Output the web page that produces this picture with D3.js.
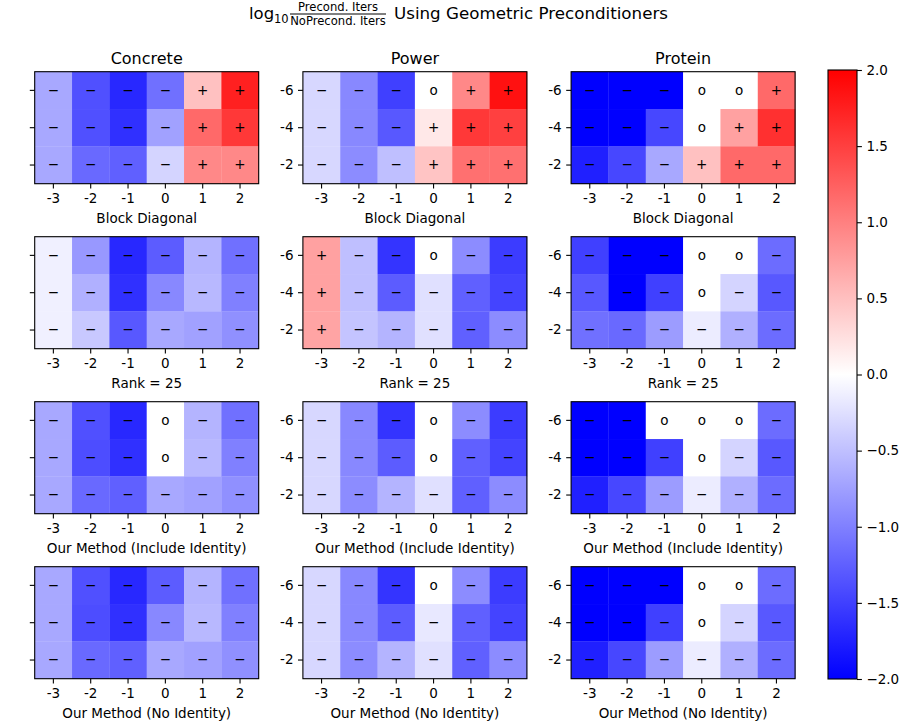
<!DOCTYPE html>
<html>
<head>
<meta charset="utf-8">
<script src="https://cdn.jsdelivr.net/npm/d3@7"></script>
<style>
  body { margin: 0; background: #fff; }
  svg { display: block; font-family: "DejaVu Sans", sans-serif; }
</style>
</head>
<body>
<svg id="chart" width="905" height="728"></svg>
<script>
// ---------------- data ----------------
const datasets = ["Concrete", "Power", "Protein"];
const methods = ["Block Diagonal", "Rank = 25", "Our Method (Include Identity)", "Our Method (No Identity)"];
const xTicks = [-3, -2, -1, 0, 1, 2];
const yTicks = [-6, -4, -2];
const colorbarTicks = [2.0, 1.5, 1.0, 0.5, 0.0, -0.5, -1.0, -1.5, -2.0];

// rows: y = -6, -4, -2 ; columns: x = -3 .. 2
const concreteBlockDiag = [
  [-0.68, -1.37, -1.69, -1.12, 0.49, 1.75],
  [-0.68, -1.37, -1.62, -0.74, 1.18, 1.56],
  [-0.68, -1.18, -1.25, -0.34, 0.93, 0.93]
];
const powerBlockDiag = [
  [-0.31, -0.93, -1.50, 0, 0.93, 1.87],
  [-0.31, -0.93, -1.31, 0.18, 1.56, 1.50],
  [-0.31, -0.90, -0.50, 0.46, 1.12, 1.12]
];
const proteinBlockDiag = [
  [-2.00, -2.00, -2.00, 0, 0, 1.18],
  [-2.00, -2.00, -1.44, 0, 0.74, 1.62],
  [-1.75, -1.44, -0.68, 0.49, 1.18, 1.18]
];
const concreteRank25 = [
  [-0.12, -0.81, -1.69, -1.28, -0.59, -1.12],
  [-0.12, -0.62, -1.62, -0.93, -0.56, -1.00],
  [-0.12, -0.43, -1.31, -0.68, -0.74, -0.87]
];
const powerRank25 = [
  [0.74, -0.50, -1.59, 0, -0.90, -1.53],
  [0.74, -0.50, -1.28, -0.24, -1.25, -1.47],
  [0.71, -0.46, -0.59, -0.24, -1.25, -0.90]
];
const proteinRank25 = [
  [-1.50, -2.00, -2.00, 0, 0, -1.15],
  [-1.31, -2.00, -1.50, 0, -0.34, -1.31],
  [-1.12, -1.18, -0.78, -0.15, -0.62, -1.15]
];
const concreteInclId = [
  [-0.68, -1.37, -1.69, 0, -0.59, -1.12],
  [-0.68, -1.40, -1.62, 0, -0.56, -1.00],
  [-0.68, -1.18, -1.25, -0.68, -0.74, -0.87]
];
const powerInclId = [
  [-0.31, -0.93, -1.59, 0, -0.90, -1.53],
  [-0.31, -0.93, -1.28, 0, -1.25, -1.47],
  [-0.31, -0.90, -0.59, -0.24, -1.25, -0.90]
];
const proteinInclId = [
  [-2.00, -2.00, 0, 0, 0, -1.15],
  [-2.00, -2.00, -1.50, 0, -0.34, -1.31],
  [-1.75, -1.44, -0.78, -0.15, -0.62, -1.15]
];
const concreteNoId = [
  [-0.68, -1.37, -1.69, -1.28, -0.59, -1.12],
  [-0.68, -1.40, -1.62, -0.93, -0.56, -1.00],
  [-0.68, -1.18, -1.25, -0.68, -0.74, -0.87]
];
const powerNoId = [
  [-0.31, -0.93, -1.59, 0, -0.90, -1.53],
  [-0.31, -0.93, -1.28, -0.18, -1.25, -1.47],
  [-0.31, -0.90, -0.59, -0.24, -1.25, -0.90]
];
const proteinNoId = [
  [-2.00, -2.00, -2.00, 0, 0, -1.15],
  [-2.00, -2.00, -1.50, 0, -0.34, -1.31],
  [-1.75, -1.44, -0.78, -0.15, -0.62, -1.15]
];

const grid = [
  [concreteBlockDiag, powerBlockDiag, proteinBlockDiag],
  [concreteRank25, powerRank25, proteinRank25],
  [concreteInclId, powerInclId, proteinInclId],
  [concreteNoId, powerNoId, proteinNoId]
];

// ---------------- layout ----------------
const svg = d3.select("#chart");
const FONT = "DejaVu Sans, sans-serif";
const tickFS = 13.5;
const panelW = 224, panelH = 112;
const colLeft = [34.7, 302.9, 571.1];
const rowTop = [71.7, 236.7, 401.7, 566.7];

const color = d3.scaleLinear().domain([-2, 0, 2]).range(["#0000ff", "#ffffff", "#ff0000"]).clamp(true);
const x = d3.scaleBand().domain(xTicks).range([0, panelW]);
const y = d3.scaleBand().domain(yTicks).range([0, panelH]);

function symbol(v) { return v > 0 ? "+" : (v < 0 ? "\u2212" : "o"); }

grid.forEach((rowData, r) => {
  rowData.forEach((mat, c) => {
    const g = svg.append("g").attr("transform", `translate(${colLeft[c]},${rowTop[r]})`);
    const cells = [];
    mat.forEach((row, i) => row.forEach((v, j) => cells.push({ xv: xTicks[j], yv: yTicks[i], v })));
    g.selectAll("rect.cell").data(cells).enter().append("rect")
      .attr("class", "cell")
      .attr("x", d => x(d.xv)).attr("y", d => y(d.yv))
      .attr("width", x.bandwidth() + 0.3).attr("height", y.bandwidth() + 0.3)
      .attr("fill", d => color(d.v));
    g.selectAll("text.sym").data(cells).enter().append("text")
      .attr("class", "sym")
      .attr("x", d => x(d.xv) + x.bandwidth() / 2)
      .attr("y", d => y(d.yv) + y.bandwidth() / 2 + 0.32 * tickFS)
      .attr("text-anchor", "middle")
      .attr("font-size", tickFS).attr("font-family", FONT).attr("fill", "#000")
      .text(d => symbol(d.v));
    // frame
    g.append("rect").attr("x", 0).attr("y", 0).attr("width", panelW).attr("height", panelH)
      .attr("fill", "none").attr("stroke", "#000").attr("stroke-width", 1.1);
    // axes
    const ax = g.append("g").attr("transform", `translate(0,${panelH})`)
      .call(d3.axisBottom(x).tickSize(4.9).tickPadding(4.5).tickFormat(d => String(d)));
    const ay = g.append("g")
      .call(d3.axisLeft(y).tickSize(4.9).tickPadding(4.5).tickFormat(d => c === 0 ? "" : String(d)));
    [ax, ay].forEach(a => {
      a.select(".domain").remove();
      a.selectAll("line").attr("stroke", "#000").attr("stroke-width", 1.1);
      a.selectAll("text").attr("font-size", tickFS).attr("font-family", FONT).attr("fill", "#000");
    });
    // x label
    g.append("text").attr("x", panelW / 2).attr("y", panelH + 39)
      .attr("text-anchor", "middle").attr("font-size", tickFS).attr("font-family", FONT)
      .attr("fill", "#000").text(methods[r]);
    if (r === 0) {
      g.append("text").attr("x", panelW / 2).attr("y", -8)
        .attr("text-anchor", "middle").attr("font-size", 16).attr("font-family", FONT)
        .attr("fill", "#000").text(datasets[c]);
    }
  });
});

// ---------------- colorbar ----------------
const cbX = 828, cbW = 29, cbTop = 70, cbBot = 679;
const cbScale = d3.scaleLinear().domain([-2, 2]).range([cbBot, cbTop]);
const defs = svg.append("defs");
const grad = defs.append("linearGradient").attr("id", "cbgrad")
  .attr("x1", 0).attr("y1", 1).attr("x2", 0).attr("y2", 0);
d3.range(0, 1.0001, 0.05).forEach(t => {
  grad.append("stop").attr("offset", t).attr("stop-color", color(-2 + 4 * t));
});
svg.append("rect").attr("x", cbX).attr("y", cbTop).attr("width", cbW).attr("height", cbBot - cbTop)
  .attr("fill", "url(#cbgrad)").attr("stroke", "#000").attr("stroke-width", 1.1);
const cbAxis = svg.append("g").attr("transform", `translate(${cbX + cbW},0)`)
  .call(d3.axisRight(cbScale).tickValues(colorbarTicks).tickSize(4.9).tickPadding(4.5)
    .tickFormat(d => (d < 0 ? "\u2212" : "") + Math.abs(d).toFixed(1)));
cbAxis.select(".domain").remove();
cbAxis.selectAll("line").attr("stroke", "#000").attr("stroke-width", 1.1);
cbAxis.selectAll("text").attr("font-size", tickFS).attr("font-family", FONT).attr("fill", "#000");

// ---------------- title ----------------
const title = svg.append("g").attr("font-family", FONT).attr("fill", "#000");
title.append("text").attr("x", 249).attr("y", 19).attr("font-size", 16.5).text("log");
title.append("text").attr("x", 274).attr("y", 23).attr("font-size", 11.5).text("10");
title.append("text").attr("x", 338).attr("y", 11).attr("font-size", 11.6).attr("text-anchor", "middle").text("Precond. Iters");
title.append("line").attr("x1", 290).attr("x2", 386).attr("y1", 14).attr("y2", 14).attr("stroke", "#000").attr("stroke-width", 1);
title.append("text").attr("x", 338).attr("y", 24.5).attr("font-size", 11.6).attr("text-anchor", "middle").text("NoPrecond. Iters");
title.append("text").attr("x", 394).attr("y", 19).attr("font-size", 16.7).text("Using Geometric Preconditioners");
</script>
</body>
</html>
